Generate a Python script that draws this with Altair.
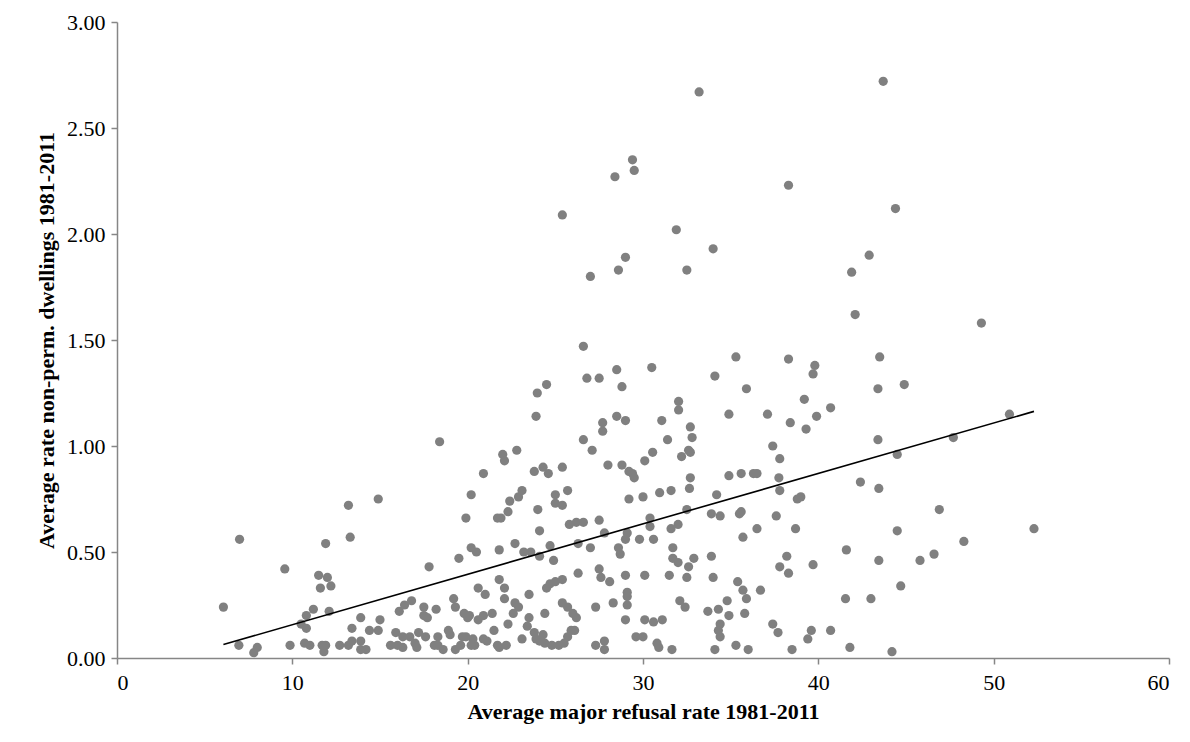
import altair as alt
import pandas as pd

# average major refusal rate 1981-2011 (x) vs average rate non-perm. dwellings (y)
refusal = [
    6.07, 6.99, 6.95, 7.8, 8.0, 9.57, 9.87, 10.5, 10.8, 10.8, 11.2, 10.7, 11.0, 11.5, 12.0, 11.6, 12.2,
    11.9, 12.1, 11.7, 11.9, 11.8, 12.7, 13.2, 13.4, 13.2, 13.3, 13.4, 13.9, 13.9, 13.9, 14.2, 14.4, 14.9,
    15.0, 14.9, 15.6, 15.9, 16.1, 16.0, 16.3, 16.4, 16.8, 16.3, 16.7, 17.1, 17.0, 17.2, 17.5, 17.5, 17.7,
    17.6, 18.1, 18.3, 18.3, 18.6, 17.8, 18.2, 18.4, 18.9, 19.0, 19.2, 19.3, 19.3, 19.6, 19.7, 19.8, 20.0,
    20.1, 19.9, 20.2, 20.3, 20.4, 19.5, 19.9, 20.2, 20.2, 20.5, 20.6, 21.0, 20.6, 20.9, 21.4, 20.9, 21.1,
    21.5, 20.9, 21.7, 21.8, 22.2, 21.8, 22.1, 22.1, 21.8, 21.7, 21.9, 22.0, 22.1, 22.8, 22.3, 22.4, 22.9,
    23.1, 22.3, 22.7, 22.6, 22.9, 23.1, 23.5, 23.5, 23.4, 22.7, 23.2, 23.6, 24.1, 23.8, 24.3, 24.6, 23.9,
    23.97, 24.5, 24.0, 24.1, 23.8, 23.9, 24.3, 24.1, 24.4, 24.8, 25.2, 25.5, 25.7, 25.9, 24.4, 24.5, 24.7,
    25.0, 25.4, 24.9, 24.7, 25.0, 25.0, 25.4, 25.7, 25.4, 25.4, 25.7, 26.0, 26.2, 26.1, 25.8, 26.2, 26.6,
    26.3, 26.3, 27.0, 26.6, 27.1, 27.3, 27.3, 27.8, 27.8, 27.5, 27.8, 27.5, 27.6, 28.1, 27.7, 27.7, 28.0,
    28.5, 29.0, 28.8, 28.8, 29.2, 29.4, 29.5, 28.6, 28.7, 29.0, 29.1, 29.0, 29.1, 29.1, 28.3, 29.1, 29.0,
    29.6, 30.0, 29.2, 30.0, 30.1, 29.8, 30.1, 30.1,
    31.07, 32.03, 32.03, 31.4, 32.7, 32.8, 30.55, 32.2, 32.7, 32.6, 32.7, 30.95, 31.6, 32.65, 30.4, 30.4,
    30.6, 31.6, 32.0, 32.5, 31.7, 31.7, 32.0, 32.6, 32.9, 31.5, 32.5, 32.1, 32.4, 31.1, 30.6, 30.8, 30.9,
    31.65, 33.9, 34.0, 34.2, 33.9, 34.4, 34.9, 35.9, 34.9, 35.6, 36.3, 36.5, 35.5, 35.6, 35.7, 36.5, 35.4,
    35.7, 35.9, 36.7, 33.7, 34.3, 34.8, 34.9, 35.8, 34.4, 34.3, 34.4, 34.1, 35.3, 36.0, 37.1, 38.4, 39.2,
    39.3, 39.9, 40.7, 37.4, 37.8, 37.75, 37.8, 37.6, 38.7, 38.8, 39.0, 38.2, 37.8, 38.3, 39.7, 37.4, 37.7,
    38.5, 39.4, 39.6, 40.7, 41.6, 41.55, 41.8, 42.4, 43.0, 43.4, 43.4, 43.45, 43.45, 44.2, 44.5, 44.5,
    44.7, 44.9, 45.8, 46.6, 46.9, 47.7, 48.3, 50.9, 52.3,
    26.8, 27.5, 28.5, 30.5, 34.1, 35.3, 38.3, 39.8, 39.7, 43.5,
    33.2, 43.7, 29.4, 29.5, 28.4, 38.3, 44.4, 25.4, 31.9, 34.0, 29.0, 28.6, 27.0, 32.5, 42.9, 41.9, 42.1,
    49.3, 26.6,
]
dwellings = [
    0.24, 0.56, 0.06, 0.025, 0.05, 0.42, 0.06, 0.16, 0.20, 0.14, 0.23, 0.07, 0.06, 0.39, 0.38, 0.33, 0.34,
    0.54, 0.22, 0.06, 0.06, 0.03, 0.06, 0.06, 0.08, 0.72, 0.57, 0.14, 0.19, 0.08, 0.04, 0.04, 0.13, 0.13,
    0.18, 0.75, 0.06, 0.12, 0.22, 0.06, 0.05, 0.25, 0.27, 0.10, 0.10, 0.05, 0.07, 0.12, 0.24, 0.20, 0.19,
    0.10, 0.06, 0.10, 0.06, 0.04, 0.43, 0.23, 1.02, 0.13, 0.11, 0.28, 0.24, 0.04, 0.06, 0.10, 0.21, 0.19,
    0.20, 0.10, 0.06, 0.09, 0.06, 0.47, 0.66, 0.77, 0.52, 0.50, 0.33, 0.30, 0.18, 0.20, 0.21, 0.09, 0.08,
    0.13, 0.87, 0.06, 0.05, 0.06, 0.37, 0.33, 0.28, 0.51, 0.66, 0.66, 0.96, 0.93, 0.98, 0.69, 0.74, 0.76,
    0.79, 0.16, 0.26, 0.21, 0.24, 0.09, 0.30, 0.19, 0.15, 0.54, 0.50, 0.50, 0.48, 0.88, 0.90, 0.87, 1.14,
    1.25, 1.29, 0.70, 0.60, 0.12, 0.09, 0.11, 0.08, 0.07, 0.06, 0.06, 0.07, 0.10, 0.13, 0.21, 0.33, 0.35,
    0.36, 0.37, 0.46, 0.53, 0.77, 0.73, 0.72, 0.79, 0.90, 0.26, 0.24, 0.21, 0.19, 0.13, 0.63, 0.64, 0.64,
    0.54, 0.40, 0.52, 1.03, 0.98, 0.24, 0.06, 0.08, 0.04, 0.65, 0.59, 0.42, 0.38, 0.36, 1.11, 1.07, 0.91,
    1.14, 1.12, 1.28, 0.91, 0.88, 0.87, 0.85, 0.52, 0.49, 0.56, 0.59, 0.39, 0.31, 0.29, 0.26, 0.25, 0.18,
    0.10, 0.10, 0.75, 0.76, 0.93, 0.56, 0.39, 0.18,
    1.12, 1.21, 1.17, 1.03, 1.09, 1.04, 0.97, 0.95, 0.97, 0.98, 0.85, 0.78, 0.79, 0.80, 0.66, 0.62,
    0.56, 0.61, 0.63, 0.70, 0.52, 0.47, 0.45, 0.43, 0.47, 0.39, 0.38, 0.27, 0.24, 0.18, 0.17, 0.07, 0.05,
    0.04, 0.48, 0.38, 0.77, 0.68, 0.67, 1.15, 1.27, 0.86, 0.87, 0.87, 0.87, 0.68, 0.69, 0.57, 0.61, 0.36,
    0.32, 0.28, 0.32, 0.22, 0.23, 0.27, 0.20, 0.21, 0.16, 0.13, 0.10, 0.04, 0.06, 0.04, 1.15, 1.11, 1.22,
    1.08, 1.14, 1.18, 1.00, 0.94, 0.85, 0.79, 0.67, 0.61, 0.75, 0.76, 0.48, 0.43, 0.40, 0.44, 0.16, 0.12,
    0.04, 0.09, 0.13, 0.13, 0.51, 0.28, 0.05, 0.83, 0.28, 1.27, 1.03, 0.80, 0.46, 0.03, 0.96, 0.60,
    0.34, 1.29, 0.46, 0.49, 0.70, 1.04, 0.55, 1.15, 0.61,
    1.32, 1.32, 1.36, 1.37, 1.33, 1.42, 1.41, 1.38, 1.34, 1.42,
    2.67, 2.72, 2.35, 2.30, 2.27, 2.23, 2.12, 2.09, 2.02, 1.93, 1.89, 1.83, 1.80, 1.83, 1.90, 1.82, 1.62,
    1.58, 1.47,
]

df = pd.DataFrame({"refusal": refusal, "dwellings": dwellings})

axis_style = dict(
    grid=False,
    domainColor="#868686",
    domainWidth=1.5,
    tickColor="#868686",
    tickWidth=1.5,
    tickSize=6,
    labelFont="Liberation Serif",
    labelFontSize=22,
    labelColor="black",
    titleFont="Liberation Serif",
    titleFontSize=22,
    titleFontWeight="bold",
    titleColor="black",
)

base = alt.Chart(df)

points = base.mark_circle(size=85, color="#808080", opacity=1).encode(
    x=alt.X("refusal:Q", title="Average major refusal rate 1981-2011",
            scale=alt.Scale(domain=[0, 60], nice=False),
            axis=alt.Axis(values=list(range(0, 61, 10)), labelPadding=8, titlePadding=8, **axis_style)),
    y=alt.Y("dwellings:Q", title="Average rate non-perm. dwellings 1981-2011",
            scale=alt.Scale(domain=[0, 3], nice=False),
            axis=alt.Axis(values=[0, 0.5, 1, 1.5, 2, 2.5, 3], format=".2f", labelPadding=6,
                          titlePadding=8, **axis_style)),
)

trend = base.transform_regression("refusal", "dwellings").mark_line(
    color="black", strokeWidth=1.6
).encode(x="refusal:Q", y="dwellings:Q")

chart = (points + trend).properties(
    width=1052, height=636,
    autosize=alt.AutoSizeParams(type="none"),
    padding={"left": 109, "top": 14, "right": 13, "bottom": 76},
).configure_view(stroke=None)

chart.save("out.html", embed_options={"renderer": "svg", "actions": False})
